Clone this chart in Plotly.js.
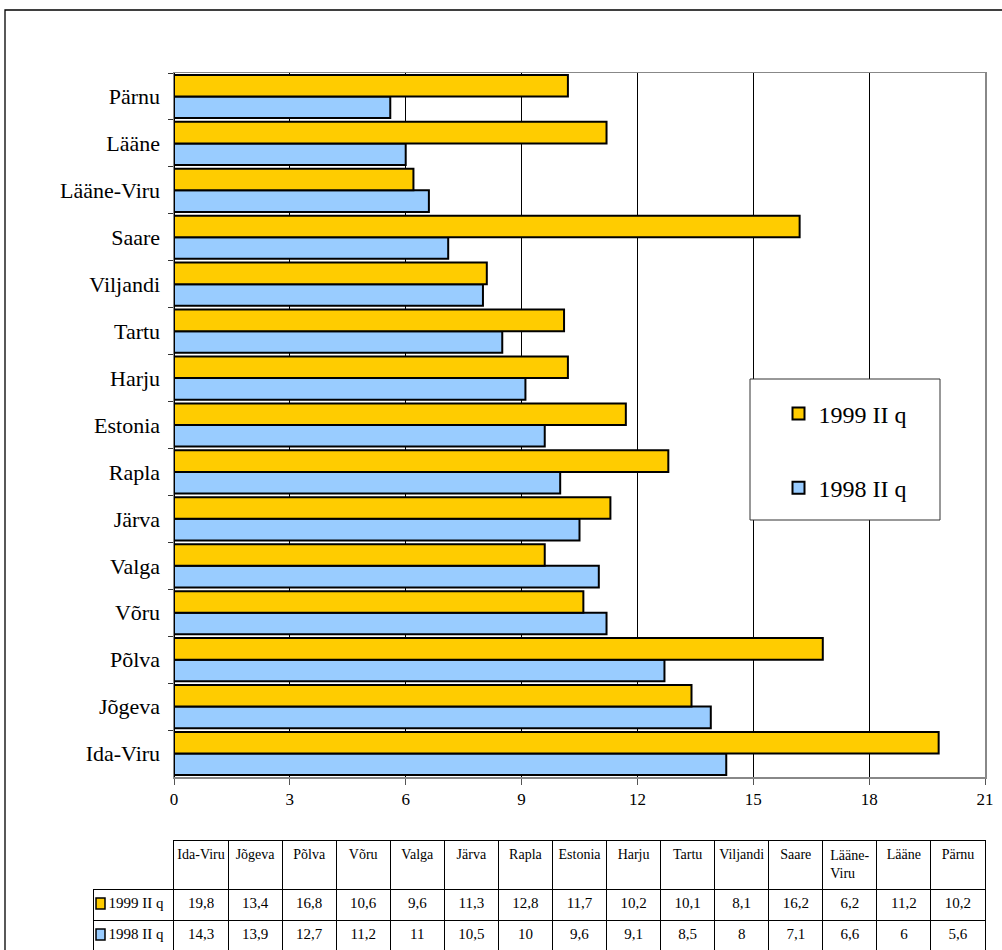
<!DOCTYPE html>
<html>
<head>
<meta charset="utf-8">
<script src="https://cdn.plot.ly/plotly-3.0.1.min.js"></script>
<style>html,body{margin:0;padding:0;overflow:hidden;background:#fff;}</style>
</head>
<body>
<div id="chart" style="width:1002px;height:950px;"></div>
<script>
var categories = ["Ida-Viru","Jõgeva","Põlva","Võru","Valga","Järva","Rapla","Estonia","Harju","Tartu","Viljandi","Saare","Lääne-Viru","Lääne","Pärnu"];
var tableHeaders = ["Ida-Viru","Jõgeva","Põlva","Võru","Valga","Järva","Rapla","Estonia","Harju","Tartu","Viljandi","Saare","Lääne-<br>Viru","Lääne","Pärnu"];
var series1999 = [19.8,13.4,16.8,10.6,9.6,11.3,12.8,11.7,10.2,10.1,8.1,16.2,6.2,11.2,10.2];
var series1998 = [14.3,13.9,12.7,11.2,11,10.5,10,9.6,9.1,8.5,8,7.1,6.6,6,5.6];
var name1999 = "1999 II q";
var name1998 = "1998 II q";
var xTicks = [0,3,6,9,12,15,18,21];

var W = 1002, H = 950;
var FONT = "Liberation Serif, Times New Roman, serif";
var YEL = "#FFCC00", BLU = "#99CCFF";

function fmt(v){ return String(v).replace('.', ','); }
function nb(s){ return '\u00a0\u00a0' + s.replace(/ /g, '\u00a0'); }

var traces = [
  {type:'bar', orientation:'h', name:name1998, y:categories, x:series1998, xaxis:'x', yaxis:'y',
   marker:{color:BLU, line:{color:'#000', width:2}}, legendgroup:'g2', legendrank:2},
  {type:'bar', orientation:'h', name:name1999, y:categories, x:series1999, xaxis:'x', yaxis:'y',
   marker:{color:YEL, line:{color:'#000', width:2}}, legendgroup:'g1', legendrank:1},
  {type:'table',
   domain:{x:[93/W, 985/W], y:[0, 110/H]},
   columnwidth:[81].concat(categories.map(function(){return 54.07;})),
   header:{
     values:[''].concat(tableHeaders),
     height:48,
     align:'center',
     line:{color:['rgba(0,0,0,0)'].concat(categories.map(function(){return '#000';})), width:1},
     fill:{color:'#fff'},
     font:{family:FONT, size:14, color:'#000'}
   },
   cells:{
     values:[[nb(name1999), nb(name1998)]].concat(
       categories.map(function(c,i){ return [fmt(series1999[i]), fmt(series1998[i])]; })),
     height:31,
     align:['left'].concat(categories.map(function(){return 'center';})),
     line:{color:'#000', width:1},
     fill:{color:'#fff'},
     font:{family:FONT, size:15, color:'#000'}
   }
  }
];

var layout = {
  width:W, height:H,
  margin:{l:0, r:0, t:0, b:0},
  paper_bgcolor:'#fff', plot_bgcolor:'#fff',
  font:{family:FONT, color:'#000'},
  barmode:'group', bargap:0.08, bargroupgap:0,
  showlegend:true,
  legend:{x:845/W, y:1-451/H, xanchor:'center', yanchor:'middle',
          traceorder:'grouped', tracegroupgap:40, itemsizing:'constant',
          bgcolor:'rgba(0,0,0,0)', borderwidth:0,
          font:{family:FONT, size:24, color:'#000'}},
  xaxis:{domain:[174/W, 985/W], range:[0,21], tickvals:xTicks, ticktext:xTicks.map(String),
         showgrid:true, gridcolor:'#000', gridwidth:1,
         zeroline:true, zerolinecolor:'#000', zerolinewidth:1.5,
         showline:true, linecolor:'#888', linewidth:1.5, mirror:true,
         ticks:'outside', ticklen:6, tickcolor:'#555',
         tickfont:{family:FONT, size:17, color:'#000'}, fixedrange:true},
  yaxis:{domain:[1-777/H, 1-73/H], type:'category',
         showline:true, linecolor:'#888', linewidth:1.5, mirror:true,
         ticks:'outside', tickson:'boundaries', ticklen:5, tickcolor:'#333',
         ticklabelstandoff:8,
         showgrid:false, zeroline:false,
         tickfont:{family:FONT, size:22, color:'#000'}, fixedrange:true},
  shapes:[
    {type:'rect', xref:'paper', yref:'paper', x0:5/W, x1:1.02, y0:-0.02, y1:1-10/H,
     line:{color:'#000', width:1.3}, fillcolor:'rgba(0,0,0,0)', layer:'above'},
    {type:'rect', xref:'paper', yref:'paper', x0:750/W, x1:940/W, y0:1-520/H, y1:1-379/H,
     line:{color:'#333', width:1}, fillcolor:'#fff', layer:'above'},
    {type:'rect', xref:'paper', yref:'paper', x0:96/W, x1:105/W, y0:1-909/H, y1:1-898/H,
     line:{color:'#000', width:1.5}, fillcolor:YEL, layer:'above'},
    {type:'rect', xref:'paper', yref:'paper', x0:96/W, x1:105/W, y0:1-940/H, y1:1-929/H,
     line:{color:'#000', width:1.5}, fillcolor:BLU, layer:'above'}
  ]
};

Plotly.newPlot('chart', traces, layout, {staticPlot:true, displayModeBar:false});
</script>
</body>
</html>
